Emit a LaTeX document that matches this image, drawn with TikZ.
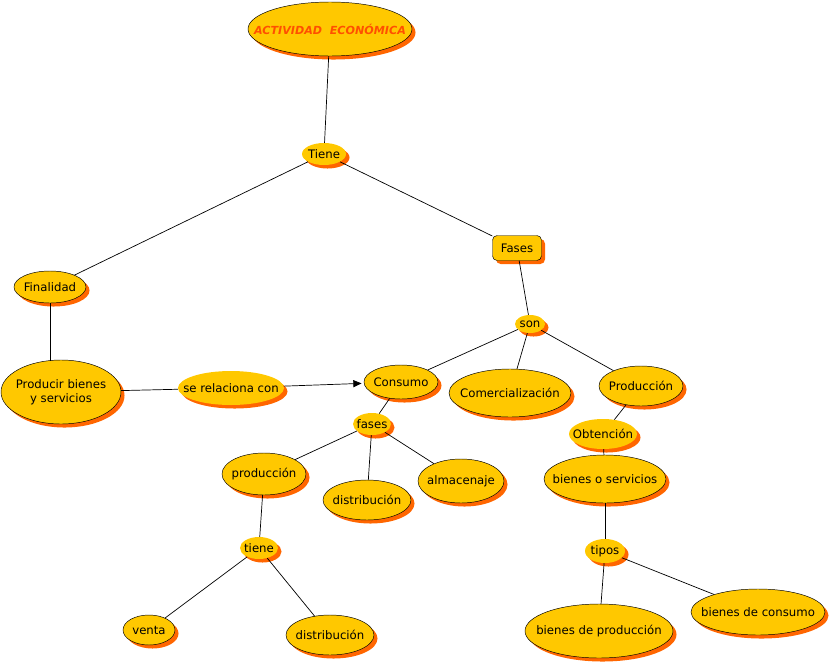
\documentclass[tikz,border=0pt]{standalone}
\usepackage{fontspec}
\setmainfont{DejaVu Sans}
\usepackage{tikz}
\usetikzlibrary{shapes.geometric, arrows.meta, shadows}
\definecolor{AEGold}{RGB}{255,200,0}
\definecolor{AEOrange}{RGB}{255,102,0}
\definecolor{AETitle}{RGB}{255,80,0}

\begin{document}
\begin{tikzpicture}[x=0.03cm, y=-0.03cm,
          concept/.style 2 args={ellipse, draw, fill=AEGold, inner sep=-30pt,
                      minimum width=#1*0.03cm, minimum height=#2*0.03cm,
                      font=\fontsize{10}{12}\selectfont, align=center,
                      drop shadow={shadow xshift=3pt, shadow yshift=-3pt,
                                   fill=AEOrange, opacity=1, draw=none}},
          link/.style 2 args={concept={#1}{#2}, draw=none},
          conn/.style={line width=0.6pt},
          arr/.style={-{Triangle[length=7pt, width=6pt]}, line width=0.6pt}
        ]
        \useasboundingbox (0,0) rectangle (830,665);

        % Title
        \node[concept={164}{54}, font=\fontsize{9.5}{11}\selectfont\bfseries\itshape,
              text=AETitle] (title) at (330, 29) {ACTIVIDAD\ \ ECONÓMICA};
        \node[link={44}{22}] (tiene) at (324, 154) {Tiene};
        \node[rectangle, rounded corners=4pt, draw, fill=AEGold, inner sep=0pt,
              minimum width=49*0.03cm, minimum height=25*0.03cm,
              font=\fontsize{10}{12}\selectfont,
              drop shadow={shadow xshift=3pt, shadow yshift=-3pt,
                           fill=AEOrange, opacity=1, draw=none}]
              (fases) at (517, 248) {Fases};

        % Left branch
        \node[concept={72}{32}] (finalidad) at (50, 287) {Finalidad};
        \node[concept={120}{64}] (producir) at (61, 392) {Producir bienes\\y servicios};
        \node[link={106}{34}] (serel) at (231, 388) {se relaciona con};

        % Phases
        \node[link={30}{18}] (son) at (530, 324) {son};
        \node[concept={74}{34}] (consumo) at (401, 382) {Consumo};
        \node[concept={122}{48}] (comerc) at (510, 393) {Comercialización};
        \node[concept={84}{40}] (produc) at (641, 386) {Producción};

        % Consumo
        \node[link={38}{22}] (fasesc) at (372, 424) {fases};
        \node[concept={84}{42}] (prodc) at (264, 474) {producción};
        \node[concept={88}{40}] (distc) at (367, 500) {distribución};
        \node[concept={86}{44}] (almac) at (461, 481) {almacenaje};
        \node[link={38}{22}] (tienep) at (259, 548) {tiene};
        \node[concept={52}{30}] (venta) at (149, 630) {venta};
        \node[concept={88}{40}] (distv) at (330, 635) {distribución};

        % Produccion
        \node[link={68}{30}] (obten) at (603, 434) {Obtención};
        \node[concept={122}{48}] (bienes) at (605, 479) {bienes o servicios};
        \node[link={40}{24}] (tipos) at (605, 551) {tipos};
        \node[concept={148}{54}] (bprod) at (599, 631) {bienes de producción};
        \node[concept={134}{46}] (bcons) at (758, 612) {bienes de consumo};

        % Connectors
        \foreach \a/\b in {title/tiene, tiene/finalidad, tiene/fases, fases/son,
                           producir/serel,
                           son/consumo, son/comerc, son/produc,
                           consumo/fasesc, fasesc/prodc, fasesc/distc, fasesc/almac,
                           prodc/tienep, tienep/venta, tienep/distv,
                           produc/obten, obten/bienes, bienes/tipos,
                           tipos/bprod, tipos/bcons}
          \draw[conn] (\a) -- (\b);
        \draw[conn] (finalidad.south) -- ([yshift=-1pt]producir.north -| finalidad.south);
        \draw[arr, shorten >=2pt] (serel) -- (consumo);
      \end{tikzpicture}
\end{document}
